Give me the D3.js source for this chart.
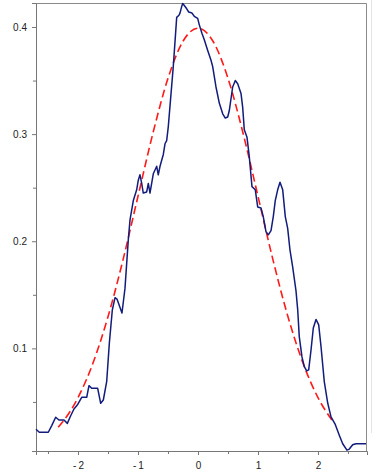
<!DOCTYPE html>
<html>
<head>
<meta charset="utf-8">
<script src="https://cdn.jsdelivr.net/npm/d3@7"></script>
<style>
  body { margin: 0; background: #fff; }
  .tick text { font-family: "Liberation Sans", Arial, sans-serif; font-size: 10px; fill: #222; }
</style>
</head>
<body>
<div id="chart"></div>
<script>
// sample density (blue)
var sampleX = [-2.70, -2.645, -2.495, -2.438, -2.372, -2.317, -2.233, -2.178, -2.122, -2.067,
    -2.012, -1.938, -1.855, -1.817, -1.772, -1.672, -1.622, -1.578, -1.522, -1.478,
    -1.428, -1.383, -1.35, -1.267, -1.217, -1.162, -1.133, -1.078, -1.022, -0.995,
    -0.967, -0.938, -0.912, -0.855, -0.828, -0.80, -0.745, -0.688, -0.662, -0.633,
    -0.578, -0.55, -0.522, -0.495, -0.412, -0.355, -0.317, -0.30, -0.272, -0.255,
    -0.228, -0.188, -0.155, -0.10, -0.062, -0.005, 0.022, 0.067, 0.105, 0.162,
    0.217, 0.245, 0.30, 0.355, 0.412, 0.455, 0.495, 0.522, 0.578, 0.622,
    0.662, 0.717, 0.745, 0.772, 0.817, 0.855, 0.90, 0.955, 0.995, 1.05,
    1.088, 1.133, 1.172, 1.217, 1.255, 1.288, 1.328, 1.367, 1.412, 1.455,
    1.495, 1.533, 1.578, 1.633, 1.662, 1.688, 1.733, 1.772, 1.812, 1.845,
    1.883, 1.922, 1.967, 2.012, 2.05, 2.105, 2.162, 2.217, 2.288, 2.355,
    2.412, 2.483, 2.522, 2.578, 2.633, 2.80];
var sampleY = [0.0245, 0.0217, 0.0217, 0.0279, 0.0357, 0.0331, 0.0331, 0.030, 0.0371, 0.0434,
    0.0471, 0.0543, 0.0543, 0.0652, 0.0627, 0.0627, 0.0487, 0.0518, 0.0689, 0.1047,
    0.1358, 0.1473, 0.146, 0.133, 0.156, 0.201, 0.220, 0.238, 0.248, 0.257,
    0.262, 0.254, 0.245, 0.246, 0.254, 0.245, 0.263, 0.270, 0.262, 0.270,
    0.281, 0.291, 0.294, 0.307, 0.363, 0.409, 0.411, 0.413, 0.419, 0.422,
    0.420, 0.417, 0.414, 0.413, 0.410, 0.408, 0.402, 0.394, 0.388, 0.378,
    0.369, 0.363, 0.344, 0.329, 0.319, 0.315, 0.316, 0.322, 0.344, 0.350,
    0.347, 0.338, 0.325, 0.304, 0.297, 0.279, 0.251, 0.248, 0.232, 0.231,
    0.223, 0.209, 0.206, 0.210, 0.223, 0.238, 0.248, 0.255, 0.248, 0.223,
    0.212, 0.192, 0.176, 0.154, 0.136, 0.111, 0.092, 0.083, 0.079, 0.080,
    0.098, 0.119, 0.127, 0.122, 0.102, 0.069, 0.049, 0.036, 0.029, 0.019,
    0.011, 0.005, 0.006, 0.010, 0.011, 0.011];

// reference normal curve (red dashed)
var normalX = [-2.33, -2.25, -2.0, -1.75, -1.5, -1.25, -1.0, -0.75, -0.5, -0.25,
    0, 0.25, 0.5, 0.75, 1.0, 1.25, 1.5, 1.75, 2.0, 2.25];
var normalY = [0.0264, 0.0317, 0.0540, 0.0863, 0.1295, 0.1826, 0.2420, 0.3011, 0.3521, 0.3867,
    0.3989, 0.3867, 0.3521, 0.3011, 0.2420, 0.1826, 0.1295, 0.0863, 0.0540, 0.0317];

var xTicks = [-2, -1, 0, 1, 2];
var xMinor = [-2.5, -1.5, -0.5, 0.5, 1.5, 2.5];
var yTicks = [0.1, 0.2, 0.3, 0.4];
var yMinor = [0.05, 0.15, 0.25, 0.35];

var svgWidth = 376;
var svgHeight = 476;
var margin = { top: 3, right: 9, bottom: 25, left: 36 };
var width = svgWidth - margin.left - margin.right;
var height = svgHeight - margin.top - margin.bottom;

var svg = d3.select("#chart").append("svg")
    .attr("width", svgWidth)
    .attr("height", svgHeight);

var chartGroup = svg.append("g")
    .attr("transform", `translate(${margin.left}, ${margin.top})`);

var xScale = d3.scaleLinear().domain([-2.7, 2.817]).range([0, width]);
var yScale = d3.scaleLinear().domain([0.0042, 0.4224]).range([height, 0]);

// faint outer edge on the right
svg.append("line")
    .attr("x1", 371.5).attr("x2", 371.5)
    .attr("y1", 0).attr("y2", 433)
    .attr("stroke", "#e4e4e4");

// frame top / right
chartGroup.append("path")
    .attr("d", `M0,0.5H${width - 0.5}V${height}`)
    .attr("fill", "none")
    .attr("stroke", "#8a8a8a");

// minor ticks
chartGroup.append("g")
    .attr("transform", `translate(0, ${height})`)
    .call(d3.axisBottom(xScale).tickValues(xMinor).tickSize(3).tickFormat(""))
    .call(g => g.select(".domain").remove())
    .selectAll("line").attr("stroke", "#777");

chartGroup.append("g")
    .call(d3.axisLeft(yScale).tickValues(yMinor).tickSize(3).tickFormat(""))
    .call(g => g.select(".domain").remove())
    .selectAll("line").attr("stroke", "#777");

// major axes
var xAxis = chartGroup.append("g")
    .attr("transform", `translate(0, ${height})`)
    .call(d3.axisBottom(xScale).tickValues(xTicks).tickSizeOuter(0).tickSize(4).tickPadding(7)
        .tickFormat(d => d < 0 ? "-\u2009" + Math.abs(d) : String(d)));
xAxis.select(".domain").attr("stroke", "#777");
xAxis.selectAll("line").attr("stroke", "#777");

var yAxis = chartGroup.append("g")
    .call(d3.axisLeft(yScale).tickValues(yTicks).tickSizeOuter(0).tickSize(4).tickPadding(5)
        .tickFormat(d3.format(".1f")));
yAxis.select(".domain").attr("stroke", "#777");
yAxis.selectAll("line").attr("stroke", "#777");

// red normal curve
var normalData = normalX.map((x, i) => [x, normalY[i]]);
chartGroup.append("path")
    .datum(normalData)
    .attr("fill", "none")
    .attr("stroke", "#ff1a1a")
    .attr("stroke-width", 1.6)
    .attr("stroke-dasharray", "8,4")
    .attr("d", d3.line()
        .x(d => xScale(d[0]))
        .y(d => yScale(d[1]))
        .curve(d3.curveMonotoneX));

// blue sample curve
var sampleData = sampleX.map((x, i) => [x, sampleY[i]]);
chartGroup.append("path")
    .datum(sampleData)
    .attr("fill", "none")
    .attr("stroke", "#121c7c")
    .attr("stroke-width", 1.5)
    .attr("stroke-linejoin", "round")
    .attr("d", d3.line()
        .x(d => xScale(d[0]))
        .y(d => yScale(d[1])));
</script>
</body>
</html>
